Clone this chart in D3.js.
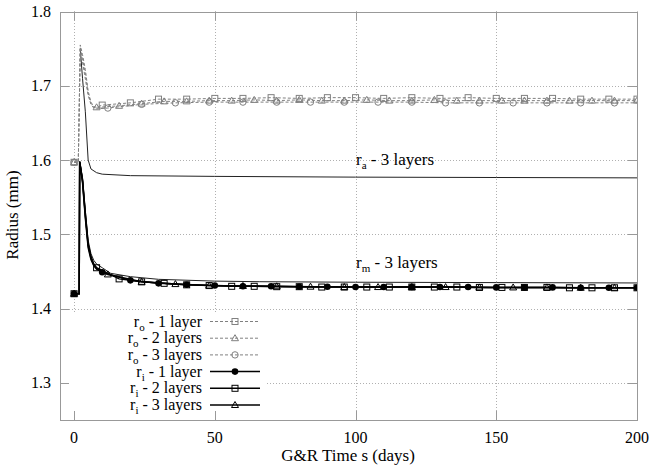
<!DOCTYPE html>
<meta charset="utf-8">
<script src="https://d3js.org/d3.v7.min.js"></script>
<style>
body { margin: 0; background: #fff; }
svg text { font-family: "Liberation Serif", "Times New Roman", serif; fill: #000; }
</style>
<body></body>
<script>

// outer radius, dashed grey (t in days, r in mm)
var roOne = [[0,1.597],[1.5,1.597],[2.2,1.755],[3,1.742],[4,1.722],[5,1.693],[6,1.678],[7,1.672],[8,1.671],
  [10,1.674],[20,1.677],[30,1.682],[40,1.682],[50,1.683],[60,1.683],[70,1.684],[80,1.683],[90,1.684],[100,1.684],
  [110,1.683],[120,1.684],[130,1.683],[140,1.684],[150,1.683],[160,1.683],[170,1.683],[180,1.682],[190,1.682],[200,1.682]];
var roTwo = [[0,1.597],[1.5,1.597],[2.2,1.752],[3,1.737],[4,1.716],[5,1.690],[6,1.676],[7,1.671],[8,1.671],
  [16,1.673],[24,1.676],[32,1.679],[40,1.679],[48,1.680],[56,1.680],[64,1.681],[72,1.680],[80,1.681],[88,1.680],
  [96,1.680],[104,1.681],[112,1.680],[120,1.680],[128,1.681],[136,1.680],[144,1.680],[152,1.680],[160,1.680],
  [168,1.680],[176,1.680],[184,1.680],[192,1.680],[200,1.680]];
var roThree = [[0,1.597],[1.5,1.597],[2.2,1.749],[3,1.732],[4,1.709],[5,1.687],[6,1.675],[7,1.670],[8,1.669],
  [12,1.670],[24,1.675],[36,1.677],[48,1.678],[60,1.678],[72,1.678],[84,1.678],[96,1.678],[108,1.678],[120,1.678],
  [132,1.677],[144,1.677],[156,1.677],[168,1.677],[180,1.677],[192,1.677],[200,1.677]];

// inner radius, solid black
var riOne = [[0,1.420],[1.8,1.420],[2,1.598],[3,1.572],[4,1.525],[5,1.485],[6,1.468],[7,1.459],[8,1.454],
  [10,1.449],[20,1.438],[30,1.434],[40,1.432],[50,1.431],[60,1.430],[70,1.430],[80,1.4295],[90,1.4295],[100,1.429],
  [110,1.429],[120,1.429],[130,1.429],[140,1.429],[150,1.4285],[160,1.4285],[170,1.4285],[180,1.428],[190,1.428],[200,1.428]];
var riTwo = [[0,1.420],[1.8,1.420],[2,1.598],[3,1.574],[4,1.528],[5,1.487],[6,1.470],[7,1.460],[8,1.455],
  [16,1.440],[24,1.436],[32,1.434],[40,1.432],[48,1.431],[56,1.430],[64,1.430],[72,1.4295],[80,1.4295],[88,1.429],
  [96,1.429],[104,1.429],[112,1.429],[120,1.429],[128,1.429],[136,1.429],[144,1.4285],[152,1.4285],[160,1.4285],
  [168,1.4285],[176,1.428],[184,1.428],[192,1.428],[200,1.428]];
var riThree = [[0,1.420],[1.8,1.420],[2,1.597],[3,1.570],[4,1.522],[5,1.482],[6,1.466],[7,1.458],[8,1.453],
  [12,1.446],[24,1.436],[36,1.433],[48,1.431],[60,1.4305],[72,1.430],[84,1.4295],[96,1.429],[108,1.429],[120,1.429],
  [132,1.429],[144,1.4285],[156,1.4285],[168,1.4285],[180,1.428],[192,1.428],[200,1.428]];

// adventitia / media boundaries, 3 layers
var raThree = [[2.2,1.750],[3,1.710],[4,1.665],[5,1.600],[6,1.588],[8,1.583],[10,1.581],[20,1.579],[50,1.578],
  [100,1.577],[150,1.5765],[200,1.576]];
var rmThree = [[2,1.598],[3,1.575],[4,1.532],[5,1.492],[6,1.474],[7,1.465],[8,1.460],[10,1.455],[13,1.4475],
  [20,1.443],[30,1.4394],[50,1.437],[66,1.4362],[100,1.4355],[150,1.435],[200,1.4345]];

var xTicks = [0, 50, 100, 150, 200];
var yTicks = [1.3, 1.4, 1.5, 1.6, 1.7, 1.8];

var series = [
  {name: "o", label: " - 1 layer",  data: roOne,   every: 10, mark: "square",   color: "#808080", dash: "3,2", w: 1},
  {name: "o", label: " - 2 layers", data: roTwo,   every: 8,  mark: "triangle", color: "#808080", dash: "3,2", w: 1},
  {name: "o", label: " - 3 layers", data: roThree, every: 12, mark: "circle",   color: "#808080", dash: "3,2", w: 1},
  {name: "i", label: " - 1 layer",  data: riOne,   every: 10, mark: "dot",      color: "#000", dash: null, w: 1.5},
  {name: "i", label: " - 2 layers", data: riTwo,   every: 8,  mark: "square",   color: "#000", dash: null, w: 1.5},
  {name: "i", label: " - 3 layers", data: riThree, every: 12, mark: "triangle", color: "#000", dash: null, w: 1.5}
];

var width = 657, height = 468;
var margin = {top: 11.5, right: 20, bottom: 48, left: 60};

var svg = d3.select("body").append("svg")
  .attr("width", width)
  .attr("height", height);

var x = d3.scaleLinear().domain([-5, 200]).range([margin.left, width - margin.right]);
var y = d3.scaleLinear().domain([1.25, 1.8]).range([height - margin.bottom, margin.top]);

// grid
var grid = svg.append("g").attr("stroke", "#b0b0b0").attr("stroke-dasharray", "1,2").attr("stroke-width", 1);
grid.selectAll(".gx").data(xTicks.slice(0, -1)).enter().append("line")
  .attr("x1", function(d) { return Math.round(x(d)) + 0.5; })
  .attr("x2", function(d) { return Math.round(x(d)) + 0.5; })
  .attr("y1", y.range()[0]).attr("y2", y.range()[1]);
grid.selectAll(".gy").data(yTicks.slice(0, -1)).enter().append("line")
  .attr("y1", function(d) { return Math.round(y(d)) + 0.5; })
  .attr("y2", function(d) { return Math.round(y(d)) + 0.5; })
  .attr("x1", x.range()[0]).attr("x2", x.range()[1]);

svg.append("clipPath").attr("id", "plot").append("rect")
  .attr("x", x.range()[0]).attr("y", y.range()[1])
  .attr("width", x.range()[1] - x.range()[0]).attr("height", y.range()[0] - y.range()[1]);

var line = d3.line()
  .x(function(d) { return x(d[0]); })
  .y(function(d) { return y(d[1]); });

var plot = svg.append("g").attr("clip-path", "url(#plot)");

function marker(g, type, cx, cy, color) {
  if (type === "square") {
    g.append("rect").attr("x", cx - 3).attr("y", cy - 3).attr("width", 6).attr("height", 6)
      .attr("fill", "none").attr("stroke", color).attr("stroke-width", 1);
  } else if (type === "triangle") {
    g.append("path").attr("d", "M" + cx + "," + (cy - 3.5) + "L" + (cx + 3.5) + "," + (cy + 2.5) + "L" + (cx - 3.5) + "," + (cy + 2.5) + "Z")
      .attr("fill", "none").attr("stroke", color).attr("stroke-width", 1);
  } else if (type === "circle") {
    g.append("circle").attr("cx", cx).attr("cy", cy).attr("r", 3.2)
      .attr("fill", "none").attr("stroke", color).attr("stroke-width", 1);
  } else {
    g.append("circle").attr("cx", cx).attr("cy", cy).attr("r", 3.3).attr("fill", color);
  }
}

// thin boundary curves
[raThree, rmThree].forEach(function(d) {
  plot.append("path").datum(d).attr("d", line)
    .attr("fill", "none").attr("stroke", "#222").attr("stroke-width", 1);
});

series.forEach(function(s) {
  plot.append("path").datum(s.data).attr("d", line)
    .attr("fill", "none").attr("stroke", s.color).attr("stroke-width", s.w)
    .attr("stroke-dasharray", s.dash);
  var mg = plot.append("g");
  s.data.filter(function(d) { return d[0] % s.every === 0; }).forEach(function(d) {
    marker(mg, s.mark, x(d[0]), y(d[1]), s.color);
  });
});

// labels with subscripts
function subLabel(tx, ty, sub, rest, size) {
  var t = svg.append("text").attr("x", tx).attr("y", ty).attr("font-size", size);
  t.append("tspan").text("r");
  t.append("tspan").attr("font-size", 11).attr("dy", 4).text(sub);
  t.append("tspan").attr("dy", -4).text(rest);
  return t;
}
subLabel(356, 165, "a", " - 3 layers", 17);
subLabel(356, 268, "m", " - 3 layers", 17);

// legend
var legend = svg.append("g");
legend.append("rect").attr("x", 66).attr("y", 313).attr("width", 200).attr("height", 101).attr("fill", "#fff");
series.forEach(function(s, i) {
  var cy = 321.5 + i * 16.7;
  subLabel(202, cy + 5, s.name, s.label, 16).attr("text-anchor", "end");
  legend.append("line").attr("x1", 210).attr("x2", 260).attr("y1", cy).attr("y2", cy)
    .attr("stroke", s.color).attr("stroke-width", s.w).attr("stroke-dasharray", s.dash);
  marker(legend, s.mark, 235, cy, s.color);
});

// frame and ticks
var frame = svg.append("g").attr("stroke", "#999").attr("stroke-width", 1);
frame.append("rect").attr("x", x.range()[0] + 0.5).attr("y", Math.round(y.range()[1]) + 0.5)
  .attr("width", x.range()[1] - x.range()[0]).attr("height", y.range()[0] - Math.round(y.range()[1]))
  .attr("fill", "none");
xTicks.forEach(function(d) {
  var px = Math.round(x(d)) + 0.5;
  frame.append("line").attr("x1", px).attr("x2", px).attr("y1", y.range()[0]).attr("y2", y.range()[0] - 9);
  frame.append("line").attr("x1", px).attr("x2", px).attr("y1", y.range()[1]).attr("y2", y.range()[1] + 9);
});
yTicks.forEach(function(d) {
  var py = Math.round(y(d)) + 0.5;
  frame.append("line").attr("y1", py).attr("y2", py).attr("x1", x.range()[0]).attr("x2", x.range()[0] + 9);
  frame.append("line").attr("y1", py).attr("y2", py).attr("x1", x.range()[1]).attr("x2", x.range()[1] - 9);
});

svg.append("g").selectAll("text").data(xTicks).enter().append("text")
  .attr("x", function(d) { return x(d); }).attr("y", 443)
  .attr("text-anchor", "middle").attr("font-size", 16)
  .text(function(d) { return d; });
svg.append("g").selectAll("text").data(yTicks).enter().append("text")
  .attr("x", 51).attr("y", function(d) { return y(d) + 5.5; })
  .attr("text-anchor", "end").attr("font-size", 16)
  .text(d3.format(".1f"));

svg.append("text").attr("x", 348).attr("y", 461).attr("text-anchor", "middle")
  .attr("font-size", 17).text("G&R Time s (days)");
svg.append("text").attr("transform", "translate(18,215) rotate(-90)").attr("text-anchor", "middle")
  .attr("font-size", 17).text("Radius (mm)");

</script>
